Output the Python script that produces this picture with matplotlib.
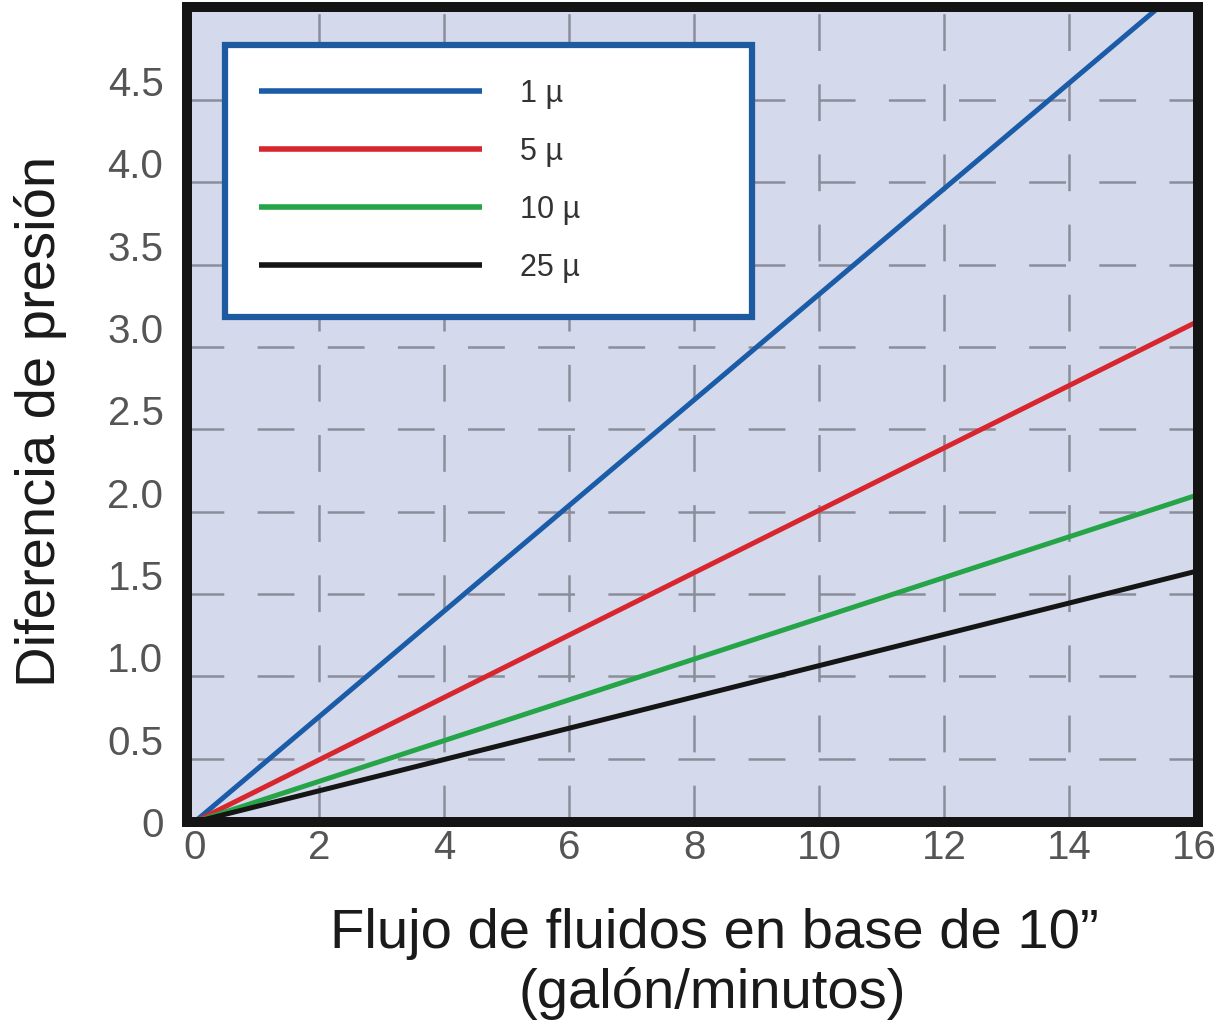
import matplotlib
matplotlib.use('Agg')
import matplotlib.pyplot as plt

# ---- data ----
flow = [0, 16]
series_labels = ['1 µ', '5 µ', '10 µ', '25 µ']
dp_1 = [0, 5.13]
dp_5 = [0, 3.03]
dp_10 = [0, 1.98]
dp_25 = [0, 1.52]
series = [dp_1, dp_5, dp_10, dp_25]
colors = ['#1b5ca8', '#d8262f', '#25a548', '#151515']

x_ticks = [0, 2, 4, 6, 8, 10, 12, 14, 16]
y_ticks = [0, 0.5, 1.0, 1.5, 2.0, 2.5, 3.0, 3.5, 4.0, 4.5]
y_tick_labels = ['0', '0.5', '1.0', '1.5', '2.0', '2.5', '3.0', '3.5', '4.0', '4.5']
x_grid = [2, 4, 6, 8, 10, 12, 14]
y_grid = [0.5, 1.0, 1.5, 2.0, 2.5, 3.0, 3.5, 4.0, 4.5]
grid_shift = 0.115  # the drawn horizontal gridlines sit a little below the labels

x_label_1 = 'Flujo de fluidos en base de 10\u201d'
x_label_2 = '(galón/minutos)'
y_label = 'Diferencia de presión'

plt.rcParams['font.family'] = ['Liberation Sans', 'DejaVu Sans']
plt.rcParams['lines.scale_dashes'] = False

W, H = 1221, 1036
fig = plt.figure(figsize=(W / 100, H / 100), dpi=100)
fig.patch.set_facecolor('white')

left, right, top, bottom = 187, 1198, 7, 822
ax = fig.add_axes([left / W, 1 - bottom / H, (right - left) / W, (bottom - top) / H])
ax.set_facecolor('#d4d9eb')

ax.set_xlim(-0.12, 16.06)
ax.set_ylim(0, 4.95)

ax.xaxis.remove_overlapping_locs = False
ax.set_xticks(x_ticks)
ax.set_xticks(x_grid, minor=True)
ax.set_yticks(y_ticks)
ax.set_yticklabels(y_tick_labels)
ax.set_yticks([v - grid_shift for v in y_grid], minor=True)

dash = (0, (26.5, 24))
ax.grid(True, which='minor', color='#8b8e9a', linewidth=1.8, linestyle=dash)
ax.grid(False, which='major')

for vals, c, lab in zip(series, colors, series_labels):
    ax.plot(flow, vals, color=c, linewidth=3.6, label=lab, solid_capstyle='butt', zorder=3)

ax.tick_params(which='both', length=0)
ax.tick_params(axis='x', which='major', labelsize=29, labelcolor='#555555', pad=5)
ax.tick_params(axis='y', which='major', labelsize=29, labelcolor='#555555', pad=17)

for s in ax.spines.values():
    s.set_linewidth(7.2)
    s.set_color('#141414')
    s.set_zorder(5)

leg = ax.legend(loc='upper left',
                bbox_to_anchor=(0.0376, 0.4534, 0.521, 0.5),
                mode='expand', borderaxespad=0,
                fontsize=22, handlelength=7.3, handletextpad=1.27,
                labelspacing=0.92, borderpad=1.1,
                fancybox=False, framealpha=1, labelcolor='#333333')
fr = leg.get_frame()
fr.set_facecolor('white')
fr.set_edgecolor('#1e5aa0')
fr.set_linewidth(4.5)
leg.set_zorder(6)
for h in leg.legend_handles:
    h.set_linewidth(4.0)

fig.text(41 / W, 1 - 421 / H, y_label, rotation=90, ha='center', va='center',
         fontsize=40.5, color='#1a1a1a')
fig.text(714 / W, 1 - 948 / H, x_label_1, ha='center', va='baseline',
         fontsize=40.5, color='#1a1a1a')
fig.text(712 / W, 1 - 1008 / H, x_label_2, ha='center', va='baseline',
         fontsize=40.5, color='#1a1a1a')

fig.savefig('out.png', dpi=100, facecolor='white')
